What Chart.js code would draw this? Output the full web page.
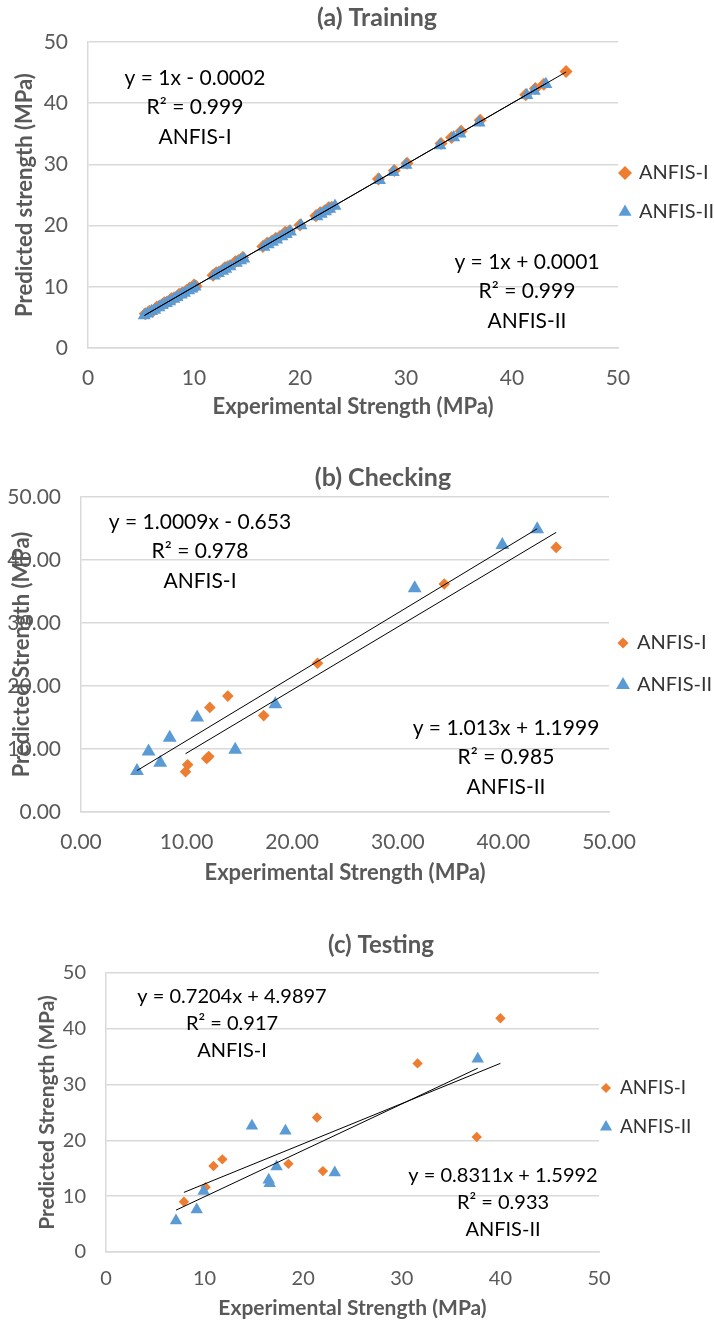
<!DOCTYPE html>
<html>
<head>
<meta charset="utf-8">
<title>ANFIS predicted vs experimental strength</title>
<script src="https://cdn.jsdelivr.net/npm/chart.js@4/dist/chart.umd.min.js"></script>
<style>
  body { margin: 0; background: #fff; }
  canvas { position: absolute; left: 0; }
</style>
</head>
<body>
<canvas id="trainChart" width="714" height="430" style="top:0px"></canvas>
<canvas id="checkChart" width="714" height="450" style="top:440px"></canvas>
<canvas id="testChart" width="714" height="423" style="top:900px"></canvas>
<script>
var seriesNames = ["ANFIS-I", "ANFIS-II"];
var axisTicks = [0, 10, 20, 30, 40, 50];

// (a) training set
var trainExp1 = [5.4, 5.8, 6.1, 6.5, 6.8, 7.2, 7.5, 7.9, 8.2, 8.6, 8.9, 9.3, 9.6, 10.0, 10.2,
	11.8, 12.1, 12.5, 12.9, 13.2, 13.9, 14.2, 14.6, 16.5, 16.9, 17.3, 17.7, 18.1, 18.6, 19.0, 20.0,
	21.5, 21.9, 22.3, 22.7, 23.0, 27.4, 28.9, 30.1, 33.3, 34.3, 35.2, 37.0, 41.3, 42.2, 43.0, 45.1];
var trainPred1 = [5.6, 6.0, 6.0, 6.7, 6.9, 7.4, 7.5, 8.1, 8.2, 8.8, 9.0, 9.4, 9.8, 10.3, 10.1,
	11.9, 12.3, 12.5, 13.1, 13.3, 14.1, 14.3, 14.8, 16.6, 17.1, 17.4, 17.9, 18.2, 18.9, 19.1, 20.1,
	21.6, 22.1, 22.4, 22.9, 23.0, 27.6, 29.0, 30.2, 33.4, 34.4, 35.4, 37.2, 41.4, 42.4, 43.1, 45.2];
var trainExp2 = [5.3, 5.6, 6.0, 6.3, 6.7, 7.0, 7.4, 7.7, 8.1, 8.4, 8.8, 9.1, 9.5, 9.8, 10.1,
	11.9, 12.3, 12.7, 13.0, 13.4, 14.0, 14.4, 14.7, 16.6, 17.0, 17.4, 17.8, 18.3, 18.7, 19.1, 20.1,
	21.6, 22.0, 22.4, 22.8, 23.3, 27.5, 28.8, 30.0, 33.2, 34.5, 35.1, 36.9, 41.4, 42.1, 43.2];
var trainPred2 = [5.3, 5.6, 6.0, 6.2, 6.6, 7.0, 7.3, 7.6, 8.0, 8.3, 8.7, 9.0, 9.4, 9.7, 10.0,
	11.8, 12.2, 12.6, 12.9, 13.3, 13.9, 14.3, 14.6, 16.5, 16.9, 17.3, 17.7, 18.2, 18.6, 19.0, 20.0,
	21.5, 21.9, 22.3, 22.7, 23.2, 27.4, 28.7, 29.9, 33.1, 34.4, 35.0, 36.8, 41.3, 42.0, 43.1];
var trainFit1 = [1, -0.0002], trainFit2 = [1, 0.0001];
var trainR2 = [0.999, 0.999];

// (b) checking set
var checkExp1 = [9.9, 10.1, 11.9, 12.1, 12.2, 13.9, 17.3, 22.4, 34.4, 45.0];
var checkPred1 = [6.4, 7.5, 8.5, 8.8, 16.6, 18.4, 15.3, 23.6, 36.2, 42.0];
var checkExp2 = [5.3, 6.4, 7.5, 8.4, 11.0, 14.6, 18.4, 31.6, 39.9, 43.2];
var checkPred2 = [6.5, 9.6, 7.8, 11.8, 15.0, 9.9, 17.1, 35.5, 42.4, 44.9];
var checkFit1 = [1.0009, -0.653], checkFit2 = [1.013, 1.1999];
var checkR2 = [0.978, 0.985];

// (c) testing set
var testExp1 = [7.9, 10.1, 10.9, 11.8, 18.5, 21.4, 22.0, 31.6, 37.6, 40.0];
var testPred1 = [9.0, 11.6, 15.4, 16.6, 15.8, 24.1, 14.5, 33.8, 20.6, 41.9];
var testExp2 = [7.1, 9.2, 9.9, 14.8, 16.5, 16.6, 17.3, 18.2, 23.2, 37.7];
var testPred2 = [5.6, 7.6, 10.9, 22.6, 12.9, 12.3, 15.3, 21.7, 14.2, 34.6];
var testFit1 = [0.7204, 4.9897], testFit2 = [0.8311, 1.5992];
var testR2 = [0.917, 0.933];

var ORANGE = "#ED7D31", BLUE = "#5B9BD5", GREY = "#595959", GRID = "#D9D9D9";
var FONT = "Lato";

Chart.defaults.font.family = FONT;

function toPoints(exp, pred) {
	return exp.map(function (v, i) { return { x: v, y: pred[i] }; });
}

// straight trendline over the x-range of a series
function fitPoints(exp, coef) {
	var lo = Math.min.apply(null, exp), hi = Math.max.apply(null, exp);
	return [{ x: lo, y: coef[0] * lo + coef[1] }, { x: hi, y: coef[0] * hi + coef[1] }];
}

function eqLines(coef, r2, name) {
	var sign = coef[1] < 0 ? " - " : " + ";
	return ["y = " + coef[0] + "x" + sign + Math.abs(coef[1]), "R\u00B2 = " + r2, name];
}

function marker(ctx, style, x, y, r) {
	ctx.beginPath();
	if (style === "rectRot") {
		ctx.moveTo(x - r, y); ctx.lineTo(x, y - r); ctx.lineTo(x + r, y); ctx.lineTo(x, y + r);
	} else {
		ctx.moveTo(x, y - r); ctx.lineTo(x + r * 0.866, y + r / 2); ctx.lineTo(x - r * 0.866, y + r / 2);
	}
	ctx.closePath();
	ctx.fill();
}

// title, legend and trendline equations
var decorations = {
	id: "decorations",
	afterDraw: function (chart, args, o) {
		var ctx = chart.ctx;
		ctx.save();
		ctx.textAlign = "center";
		ctx.textBaseline = "middle";
		ctx.fillStyle = GREY;
		ctx.font = "bold " + o.titleSize + "px " + FONT;
		ctx.fillText(o.title, o.titleX, o.titleY);

		ctx.fillStyle = "#000";
		ctx.font = o.textSize + "px " + FONT;
		o.notes.forEach(function (n) {
			n.lines.forEach(function (t, i) { ctx.fillText(t, n.x, n.y + i * o.lineGap); });
		});

		ctx.textAlign = "left";
		ctx.font = o.legendSize + "px " + FONT;
		o.legend.forEach(function (item, i) {
			var y = o.legendY + i * o.legendGap;
			ctx.fillStyle = item.color;
			marker(ctx, item.style, o.legendX, y, item.r);
			ctx.fillStyle = "#333";
			ctx.fillText(item.text, o.legendX + 14, y);
		});
		ctx.restore();
	}
};

function makeChart(id, d, box) {
	var tickFmt = function (v) { return box.decimals ? v.toFixed(box.decimals) : String(v); };
	var setTicks = function (s) { s.ticks = axisTicks.map(function (v) { return { value: v }; }); };
	return new Chart(document.getElementById(id), {
		type: "scatter",
		data: {
			datasets: [
				{ data: fitPoints(d.exp1, d.fit1), showLine: true, borderColor: "#000", borderWidth: 1, pointRadius: 0, order: 0 },
				{ data: fitPoints(d.exp2, d.fit2), showLine: true, borderColor: "#000", borderWidth: 1, pointRadius: 0, order: 0 },
				{ label: seriesNames[1], data: toPoints(d.exp2, d.pred2), pointStyle: "triangle", pointRadius: box.triR,
					backgroundColor: BLUE, borderColor: BLUE, borderWidth: 0, order: 1 },
				{ label: seriesNames[0], data: toPoints(d.exp1, d.pred1), pointStyle: "rectRot", pointRadius: box.diaR,
					backgroundColor: ORANGE, borderColor: ORANGE, borderWidth: 0, order: 2 }
			]
		},
		options: {
			responsive: false,
			animation: false,
			events: [],
			layout: { padding: { left: 0, top: box.top, right: 714 - box.right, bottom: box.padBottom } },
			plugins: {
				legend: { display: false },
				tooltip: { enabled: false },
				decorations: {
					title: box.title, titleX: box.titleX, titleY: box.titleY, titleSize: box.titleSize,
					textSize: box.textSize, lineGap: box.lineGap, legendSize: box.legendSize,
					notes: [
						{ x: box.note1[0], y: box.note1[1], lines: eqLines(d.fit1, d.r2[0], seriesNames[0]) },
						{ x: box.note2[0], y: box.note2[1], lines: eqLines(d.fit2, d.r2[1], seriesNames[1]) }
					],
					legendX: box.legend[0], legendY: box.legend[1], legendGap: box.legend[2],
					legend: [
						{ text: seriesNames[0], color: ORANGE, style: "rectRot", r: box.legDia },
						{ text: seriesNames[1], color: BLUE, style: "triangle", r: box.legTri }
					]
				}
			},
			scales: {
				x: {
					type: "linear", min: 0, max: 50,
					afterBuildTicks: setTicks,
					afterFit: function (s) { s.height = box.xHeight; },
					grid: { display: false, drawTicks: false },
					border: { display: true, color: GRID, width: 1.5 },
					ticks: { padding: box.xPad, color: GREY, font: { size: box.tickSize }, callback: tickFmt },
					title: { display: true, text: "Experimental Strength (MPa)", color: GREY,
						font: { size: box.axisSize, weight: "bold" }, padding: { top: 0, bottom: box.xTitlePad } }
				},
				y: {
					min: 0, max: 50,
					afterBuildTicks: setTicks,
					afterFit: function (s) { s.width = box.left; },
					grid: { color: GRID, lineWidth: 1.5, drawTicks: false },
					border: { display: true, color: GRID, width: 1.5 },
					ticks: { padding: 20, color: GREY, font: { size: box.tickSize }, callback: tickFmt },
					title: { display: true, text: box.yTitle, color: GREY,
						font: { size: box.axisSize, weight: "bold" }, padding: { top: box.yTitlePad, bottom: 0 } }
				}
			}
		},
		plugins: [decorations]
	});
}

makeChart("trainChart",
	{ exp1: trainExp1, pred1: trainPred1, exp2: trainExp2, pred2: trainPred2, fit1: trainFit1, fit2: trainFit2, r2: trainR2 },
	{ title: "(a) Training", titleX: 377, titleY: 18, titleSize: 25, textSize: 21, lineGap: 29.5, legendSize: 20,
	  note1: [195, 78], note2: [527, 262], legend: [625, 173, 39], legDia: 7, legTri: 7.5,
	  left: 88, right: 618, top: 42, xHeight: 75, padBottom: 7, xPad: 18, xTitlePad: 3, yTitlePad: 12,
	  yTitle: "Predicted strength (MPa)", tickSize: 21, axisSize: 22, decimals: 0, diaR: 6.5, triR: 7.5 });

makeChart("checkChart",
	{ exp1: checkExp1, pred1: checkPred1, exp2: checkExp2, pred2: checkPred2, fit1: checkFit1, fit2: checkFit2, r2: checkR2 },
	{ title: "(b) Checking", titleX: 383, titleY: 38, titleSize: 25, textSize: 21, lineGap: 29.5, legendSize: 20,
	  note1: [200, 82], note2: [506, 288], legend: [623, 203, 42], legDia: 5.5, legTri: 8,
	  left: 81, right: 609, top: 57, xHeight: 75, padBottom: 3, xPad: 18, xTitlePad: 1, yTitlePad: 9,
	  yTitle: "Predicted Strength (MPa)", tickSize: 21, axisSize: 22, decimals: 2, diaR: 5.8, triR: 8 });

makeChart("testChart",
	{ exp1: testExp1, pred1: testPred1, exp2: testExp2, pred2: testPred2, fit1: testFit1, fit2: testFit2, r2: testR2 },
	{ title: "(c) Testing", titleX: 381, titleY: 45, titleSize: 24, textSize: 20, lineGap: 27, legendSize: 19,
	  note1: [232, 97], note2: [503, 276], legend: [606, 188, 39], legDia: 5, legTri: 7,
	  left: 106, right: 599, top: 73, xHeight: 70, padBottom: 1, xPad: 15, xTitlePad: 1.5, yTitlePad: 35,
	  yTitle: "Predicted Strength (MPa)", tickSize: 20, axisSize: 21, decimals: 0, diaR: 5.2, triR: 7.2 });
</script>
</body>
</html>
